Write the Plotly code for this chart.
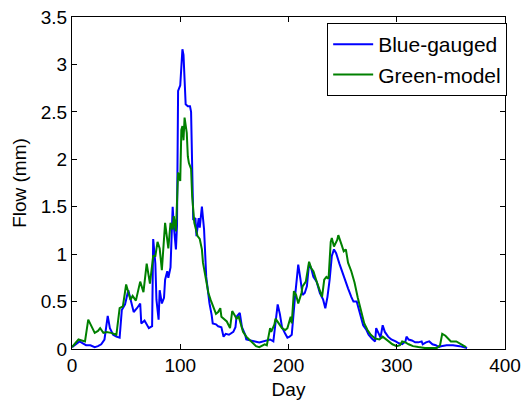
import plotly.graph_objects as go

blue_days = [0, 3, 7, 10, 13, 17, 21, 24, 27, 30, 33, 35, 38, 41, 44, 46, 49, 52, 55, 57, 60, 63, 64, 67, 71, 72, 74, 75, 77, 78, 80, 81, 83, 85, 86, 88, 89, 91, 93, 94, 96, 97, 98, 100, 101, 102, 103, 104, 105, 107, 109, 110, 111, 112, 114, 115, 117, 118, 120, 122, 124, 126, 127, 129, 130, 133, 135, 138, 140, 142, 145, 149, 151, 152, 154, 155, 157, 160, 161, 164, 169, 173, 177, 180, 183, 186, 188, 190, 192, 194, 197, 199, 201, 203, 206, 209, 211, 213, 215, 217, 219, 221, 223, 226, 229, 232, 234, 236, 238, 240, 242, 244, 247, 249, 252, 255, 258, 260, 263, 266, 269, 272, 274, 277, 280, 281, 283, 285, 287, 289, 292, 295, 299, 302, 305, 308, 309, 311, 314, 317, 320, 323, 324, 327, 330, 333, 336, 339, 341, 346, 352, 358, 365]
blue_vals = [0.02, 0.05, 0.08, 0.06, 0.04, 0.04, 0.02, 0.03, 0.05, 0.1, 0.35, 0.22, 0.15, 0.13, 0.12, 0.41, 0.47, 0.62, 0.47, 0.39, 0.43, 0.48, 0.27, 0.3, 0.22, 0.23, 0.24, 1.16, 0.9, 0.52, 0.31, 0.62, 0.48, 0.54, 0.73, 0.82, 0.75, 0.86, 1.5, 1.3, 1.05, 1.3, 2.72, 2.78, 3.0, 3.16, 3.1, 2.84, 2.58, 2.56, 2.56, 2.5, 1.96, 1.36, 1.38, 1.19, 1.38, 1.28, 1.5, 1.26, 0.76, 0.55, 0.48, 0.36, 0.27, 0.26, 0.24, 0.23, 0.13, 0.16, 0.15, 0.18, 0.23, 0.34, 0.36, 0.38, 0.23, 0.15, 0.1, 0.09, 0.08, 0.07, 0.08, 0.09, 0.1, 0.08, 0.31, 0.47, 0.37, 0.23, 0.16, 0.12, 0.13, 0.15, 0.55, 0.89, 0.74, 0.57, 0.59, 0.66, 0.9, 0.85, 0.76, 0.71, 0.59, 0.52, 0.43, 0.55, 0.73, 0.98, 1.05, 1.01, 0.9, 0.83, 0.73, 0.64, 0.55, 0.5, 0.5, 0.38, 0.25, 0.2, 0.15, 0.11, 0.08, 0.22, 0.17, 0.12, 0.25, 0.18, 0.13, 0.1, 0.08, 0.06, 0.05, 0.08, 0.13, 0.1, 0.09, 0.07, 0.07, 0.08, 0.05, 0.07, 0.08, 0.05, 0.04, 0.02, 0.03, 0.04, 0.04, 0.03, 0.01]

green_days = [0, 3, 6, 9, 12, 15, 18, 21, 24, 26, 29, 32, 36, 41, 44, 47, 50, 52, 54, 56, 59, 63, 66, 69, 72, 75, 77, 79, 81, 83, 86, 89, 91, 93, 94, 96, 98, 100, 101, 102, 103, 104, 106, 107, 108, 110, 111, 113, 116, 118, 120, 121, 124, 126, 128, 130, 133, 135, 137, 138, 141, 143, 146, 148, 150, 152, 154, 156, 158, 161, 164, 167, 170, 173, 176, 178, 180, 183, 184, 187, 188, 190, 192, 194, 197, 199, 202, 203, 205, 207, 209, 212, 213, 216, 217, 219, 221, 223, 226, 229, 231, 233, 235, 237, 239, 240, 242, 245, 246, 249, 251, 253, 255, 258, 261, 264, 267, 270, 273, 276, 280, 284, 287, 290, 293, 296, 300, 303, 305, 308, 311, 315, 320, 326, 333, 337, 340, 342, 345, 348, 350, 355, 360, 364]
green_vals = [0.02, 0.06, 0.1, 0.09, 0.08, 0.31, 0.24, 0.17, 0.19, 0.22, 0.17, 0.18, 0.17, 0.15, 0.43, 0.45, 0.68, 0.6, 0.52, 0.56, 0.51, 0.71, 0.6, 0.9, 0.69, 0.98, 0.98, 1.13, 1.06, 0.83, 1.33, 1.06, 1.33, 1.26, 1.4, 1.24, 1.86, 1.77, 2.31, 2.35, 2.2, 2.44, 2.28, 2.03, 1.96, 1.9, 1.61, 1.33, 1.19, 1.16, 1.05, 0.91, 0.7, 0.59, 0.52, 0.45, 0.37, 0.39, 0.43, 0.34, 0.31, 0.29, 0.22, 0.4, 0.36, 0.32, 0.34, 0.25, 0.18, 0.13, 0.1, 0.06, 0.03, 0.02, 0.04, 0.05, 0.04, 0.22, 0.18, 0.26, 0.32, 0.29, 0.25, 0.22, 0.2, 0.22, 0.34, 0.27, 0.61, 0.57, 0.48, 0.59, 0.66, 0.71, 0.78, 0.92, 0.85, 0.82, 0.71, 0.62, 0.55, 0.73, 0.76, 0.74, 1.13, 1.17, 1.08, 1.15, 1.2, 1.1, 1.03, 1.05, 0.91, 0.82, 0.7, 0.54, 0.41, 0.27, 0.2, 0.15, 0.11, 0.1, 0.13, 0.1, 0.07, 0.05, 0.03, 0.04, 0.08, 0.07, 0.05, 0.03, 0.02, 0.01, 0.01, 0.01, 0.04, 0.16, 0.14, 0.1, 0.08, 0.08, 0.05, 0.02]

x_ticks = [0, 100, 200, 300, 400]
y_ticks = [0, 0.5, 1, 1.5, 2, 2.5, 3, 3.5]
y_tick_text = ["0", "0.5", "1", "1.5", "2", "2.5", "3", "3.5"]

fig = go.Figure()
fig.add_trace(go.Scatter(x=blue_days, y=blue_vals, mode="lines", name="Blue-gauged",
                         line=dict(color="#0000FF", width=2)))
fig.add_trace(go.Scatter(x=green_days, y=green_vals, mode="lines", name="Green-model",
                         line=dict(color="#008000", width=2)))

font = dict(family="Liberation Sans, Arial, sans-serif", size=19, color="black")
axis_common = dict(showgrid=False, zeroline=False, showline=True, linecolor="black",
                   linewidth=1, mirror="ticks", ticks="inside", ticklen=5,
                   tickcolor="black", tickfont=font, automargin=False,
                   ticklabeloverflow="allow")

# The page body adds an 8px offset, so margins are shifted to place the plot box
# at the same screen position as the reference.
fig.update_layout(
    width=529, height=401,
    margin=dict(l=64, r=32, t=9, b=60),
    paper_bgcolor="white", plot_bgcolor="white",
    font=font,
    showlegend=True,
    legend=dict(x=1.005, y=0.982, xanchor="right", yanchor="top",
                bordercolor="black", borderwidth=1, bgcolor="white",
                itemwidth=40,
                font=dict(family="Liberation Sans, Arial, sans-serif", size=21, color="black"),
                tracegroupgap=0),
    xaxis=dict(range=[0, 400], tickvals=x_ticks, ticklabelstandoff=-1,
               title=dict(text="Day", font=font, standoff=7), **axis_common),
    yaxis=dict(range=[0, 3.5], tickvals=y_ticks, ticktext=y_tick_text,
               title=dict(text="Flow (mm)", font=font, standoff=9), **axis_common),
)

fig.write_html("out.html")
